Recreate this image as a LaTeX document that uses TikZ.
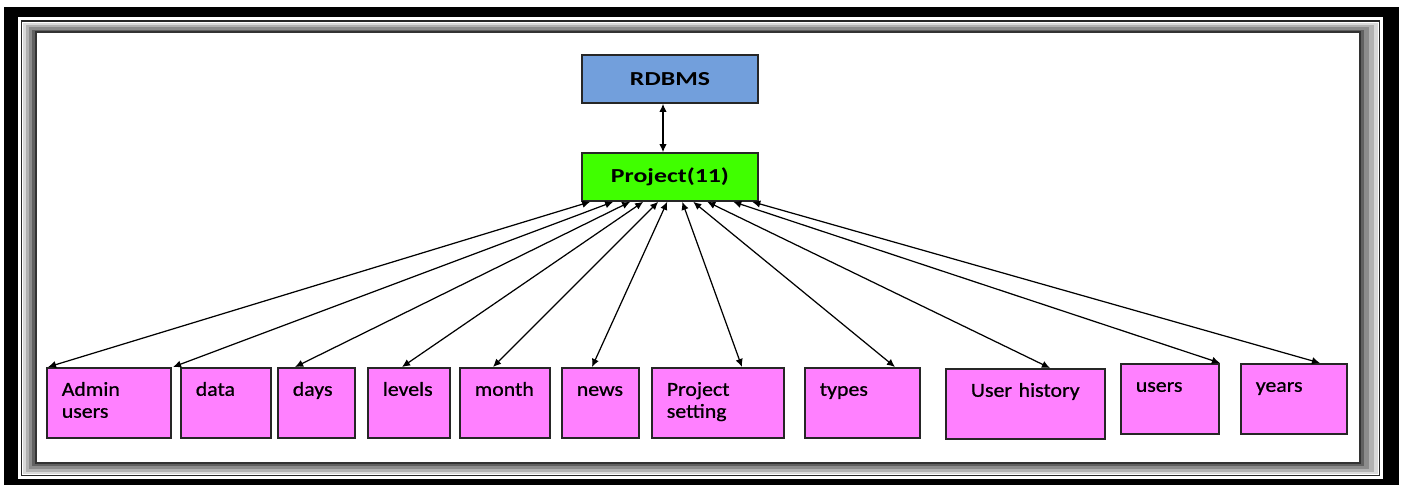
\documentclass[tikz,border=0pt]{standalone}
\usepackage{fontspec}
\setmainfont{Carlito}
\newfontfamily\topfont{Carlito}[FakeStretch=1.3]
\newfontfamily\tablefont{Carlito}[FakeStretch=1.1, FakeBold=0.8]
\usepackage{tikz}
\usetikzlibrary{arrows,arrows.meta,shapes,positioning}
\definecolor{dbblue}{RGB}{114,159,220}
\definecolor{projgreen}{RGB}{64,255,0}
\definecolor{tablepink}{RGB}{255,128,255}
\tikzstyle{arrow} = [<->,>={Latex[length=4.6pt,width=4.2pt]},line width=0.7pt,color=black]
\tikzstyle{topbox} = [rectangle, minimum width=3.52cm, minimum height=0.96cm, text centered, draw=black!85, line width=0.9pt, font=\topfont\fontsize{11.3}{13}\selectfont\bfseries]
\tikzstyle{tablebox} = [rectangle, anchor=north west, align=left, inner xsep=0.3cm, inner ysep=0.3cm, text height=0.26cm, text depth=0.54cm, draw=black!85, fill=tablepink, line width=0.9pt, font=\tablefont\fontsize{11.3}{12.5}\selectfont]

\begin{document}
\begin{tikzpicture}[x=0.02cm, y=-0.02cm]
\useasboundingbox (0,0) rectangle (1402,485);
% Frame
\fill[black] (4,7) rectangle (1399,485);
\fill[white] (18,17) rectangle (1383,479);
\draw[black!85, line width=1.1pt] (21.5,21) rectangle (1379.5,475.5);
\fill[black!15] (23,22.5) rectangle (1378,474);
\fill[black!30] (26,24.5) rectangle (1374,472);
\fill[black!45] (29,27) rectangle (1369,469);
\fill[black!62] (32,29.5) rectangle (1364,466);
\draw[black!80, fill=white, line width=1.1pt] (36,32) rectangle (1360,463);

% Database and project
\node (rdbms) [topbox, fill=dbblue] at (670,79) {RDBMS};
\node (proj) [topbox, fill=projgreen, below of=rdbms, node distance=1.96cm] {Project(11)};
\draw[arrow] ([xshift=-0.14cm]rdbms.south) -- ([xshift=-0.14cm]proj.north);

% Tables
\node (admin) [tablebox, minimum width=2.48cm, text width=1.88cm] at (46,367) {Admin\\users};
\node (data) [tablebox, minimum width=1.8cm, text width=1.2cm] at (180,367) {data};
\node (days) [tablebox, minimum width=1.54cm, text width=0.94cm] at (277,367) {days};
\node (levels) [tablebox, minimum width=1.64cm, text width=1.04cm] at (367,367) {levels};
\node (month) [tablebox, minimum width=1.8cm, text width=1.2cm] at (459,367) {month};
\node (news) [tablebox, minimum width=1.54cm, text width=0.94cm] at (561,367) {news};
\node (setting) [tablebox, minimum width=2.64cm, text width=2.04cm] at (651,367) {Project\\setting};
\node (types) [tablebox, minimum width=2.3cm, text width=1.7cm] at (804,367) {types};
\node (history) [tablebox, minimum width=3.18cm, text width=2.58cm, align=center] at (945,368) {User history};
\node (users) [tablebox, minimum width=1.96cm, text width=1.36cm, minimum height=1.38cm] at (1120,363) {users};
\node (years) [tablebox, minimum width=2.12cm, text width=1.52cm, minimum height=1.38cm] at (1240,363) {years};

\draw[arrow] ([xshift=0.04cm]admin.north west) -- ([xshift=0.18cm]proj.south west);
\draw[arrow] ([xshift=-0.14cm]data.north west) -- ([xshift=0.64cm]proj.south west);
\draw[arrow] ([xshift=0.36cm]days.north west) -- ([xshift=0.98cm]proj.south west);
\draw[arrow] ([xshift=0.7cm]levels.north west) -- ([xshift=1.24cm]proj.south west);
\draw[arrow] ([xshift=0.68cm]month.north west) -- ([xshift=1.54cm]proj.south west);
\draw[arrow] ([xshift=0.62cm]news.north west) -- ([xshift=1.72cm]proj.south west);
\draw[arrow] ([xshift=1.82cm]setting.north west) -- ([xshift=2.02cm]proj.south west);
\draw[arrow] ([xshift=1.82cm]types.north west) -- ([xshift=2.24cm]proj.south west);
\draw[arrow] ([xshift=2.1cm]history.north west) -- ([xshift=2.52cm]proj.south west);
\draw[arrow] ([xshift=2.0cm]users.north west) -- ([xshift=3.04cm]proj.south west);
\draw[arrow] ([xshift=1.6cm]years.north west) -- ([xshift=3.42cm]proj.south west);
\end{tikzpicture}
\end{document}
